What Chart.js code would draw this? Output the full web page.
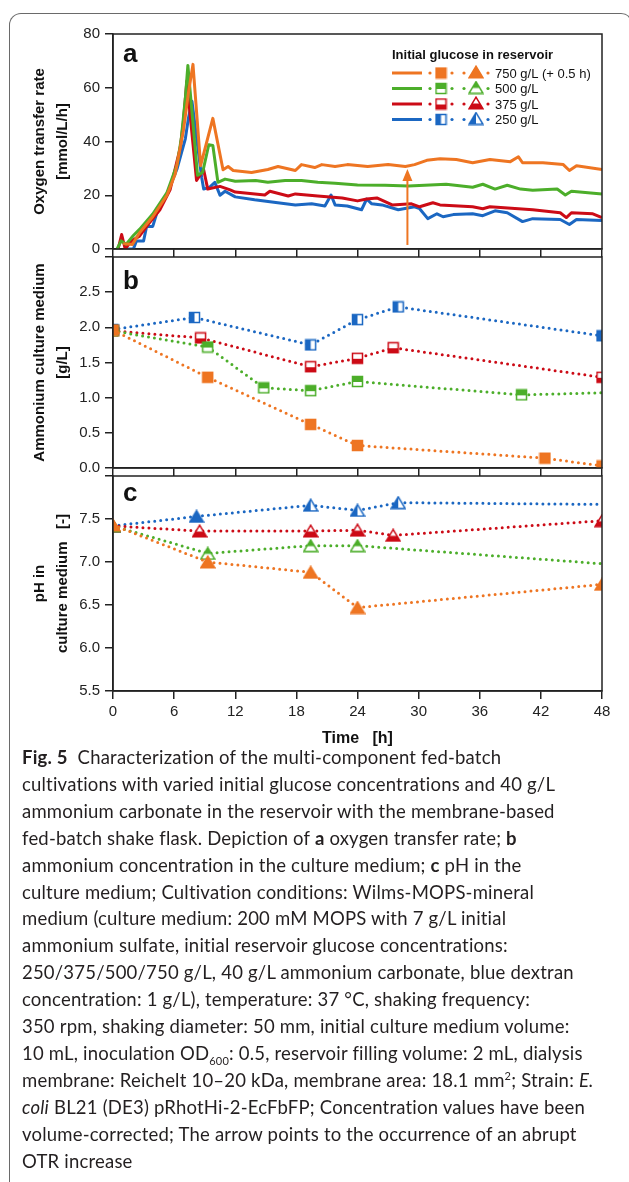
<!DOCTYPE html>
<html>
<head>
<meta charset="utf-8">
<script src="https://cdn.jsdelivr.net/npm/chart.js@4.4.1/dist/chart.umd.min.js"></script>
<style>
  body { margin: 0; background: #fff; width: 629px; height: 1182px; position: relative; overflow: hidden; }
  .frame { position: absolute; left: 9px; top: 13px; width: 624px; height: 1200px; box-sizing: border-box;
           border: 1.5px solid #6a6a6a; border-bottom: none; border-radius: 12px 12px 0 0; }
  canvas { position: absolute; left: 0; }
  #caption { position: absolute; left: 22px; top: 744px; width: 600px; font-family: Lato, "Open Sans", sans-serif;
             font-size: 18.5px; letter-spacing: 0.2px; font-variant-ligatures: none; line-height: 26.9px;
             color: #231f20; white-space: nowrap; }
  #caption sub, #caption sup { font-size: 11px; line-height: 0; }
</style>
</head>
<body>
<div class="frame"></div>
<canvas id="otr" width="629" height="263" style="top:0"></canvas>
<canvas id="nh4" width="629" height="239" style="top:243px"></canvas>
<canvas id="ph" width="629" height="300" style="top:462px"></canvas>
<div id="caption">
<b>Fig. 5</b>&nbsp; Characterization of the multi-component fed-batch<br>
cultivations with varied initial glucose concentrations and 40 g/L<br>
ammonium carbonate in the reservoir with the membrane-based<br>
fed-batch shake flask. Depiction of <b>a</b> oxygen transfer rate; <b>b</b><br>
ammonium concentration in the culture medium; <b>c</b> pH in the<br>
culture medium; Cultivation conditions: Wilms-MOPS-mineral<br>
medium (culture medium: 200 mM MOPS with 7 g/L initial<br>
ammonium sulfate, initial reservoir glucose concentrations:<br>
250/375/500/750 g/L, 40 g/L ammonium carbonate, blue dextran<br>
concentration: 1 g/L), temperature: 37 °C, shaking frequency:<br>
350 rpm, shaking diameter: 50 mm, initial culture medium volume:<br>
10 mL, inoculation OD<sub>600</sub>: 0.5, reservoir filling volume: 2 mL, dialysis<br>
membrane: Reichelt 10–20 kDa, membrane area: 18.1 mm<sup>2</sup>; Strain: <i>E.</i><br>
<i>coli</i> BL21 (DE3) pRhotHi-2-EcFbFP; Concentration values have been<br>
volume-corrected; The arrow points to the occurrence of an abrupt<br>
OTR increase
</div>
<script>
// series order: 750, 500, 375, 250 g/L initial glucose
const glucose = ['750 g/L (+ 0.5 h)', '500 g/L', '375 g/L', '250 g/L'];

// oxygen transfer rate [mmol/L/h]
const otrT750 = [1.0, 1.9, 2.6, 3.9, 5.3, 6.1, 6.9, 7.4, 7.85, 8.6, 9.8, 10.8, 11.3, 11.8, 13.6, 15.2, 16.2, 17.9, 18.5, 19.8, 20.5, 21.8, 23, 25, 27, 28.7, 29.6, 30.8, 32.1, 33.7, 35.3, 37, 39, 39.8, 40.2, 42.2, 44.2, 44.8, 45.5, 48];
const otr750 = [2, 1.7, 6, 12, 20, 27.8, 43.8, 58, 68.7, 31, 48.6, 29.5, 30.7, 29.2, 28.5, 29.6, 30.7, 29.2, 31.4, 30.3, 31.4, 30.7, 31.4, 30.7, 31.4, 30.7, 31.4, 33, 33.6, 33.3, 32.1, 33.3, 32.5, 34.3, 32.1, 32.1, 31.4, 29.2, 31, 29.6];
const otrT500 = [0.4, 0.8, 1.3, 2, 2.6, 3.9, 5.3, 6.3, 6.7, 7.1, 7.35, 8.3, 8.8, 9.4, 9.8, 10.3, 11, 12, 14, 15.2, 16.9, 18.5, 20.1, 21.8, 24, 26.7, 29, 30.6, 32.7, 35.3, 36.3, 37.5, 38.7, 40, 41.2, 43.6, 44.4, 45, 48];
const otr500 = [0, 3, 1.8, 5, 7.3, 13, 21, 31.5, 41, 56, 68.3, 27.4, 28.5, 38.8, 38.5, 24.8, 26, 25.2, 25.5, 24.8, 25.5, 25.5, 24.8, 24.5, 23.8, 23.7, 23.4, 23.7, 24.1, 23, 24.1, 22.3, 23.7, 22.3, 21.9, 22.3, 20.1, 21.5, 20.5];
const otrT375 = [0.5, 0.85, 1.2, 1.8, 2.6, 3.3, 4.6, 5.6, 6.6, 6.9, 7.25, 8.2, 8.9, 9.3, 10.5, 11.5, 12, 14.9, 15.4, 17.2, 17.9, 20.1, 22.5, 24, 24.9, 25.9, 27.4, 29.3, 30.1, 31.4, 32.1, 35.3, 36.3, 37, 41.2, 43.9, 44.5, 45, 47.1, 48];
const otr375 = [0, 5.4, 0, 3, 4.8, 8.4, 14.6, 22, 37.6, 47, 62.5, 25.5, 29.5, 22.3, 23.3, 22, 21.2, 20.1, 21.5, 19.7, 20.5, 19.7, 19, 17.9, 18.6, 19, 16.4, 16.8, 15.7, 17.2, 16.4, 15.7, 15, 15.7, 14.6, 13.5, 11.7, 13.5, 13.1, 11.7];
const otrT250 = [1.1, 2.0, 2.3, 3.0, 3.3, 3.9, 4.4, 5.3, 6.3, 7.1, 7.4, 7.75, 8.7, 8.9, 9.5, 10, 10.5, 11, 12, 13.9, 15.6, 17.9, 19.5, 20.8, 21.4, 21.8, 23, 24.4, 24.9, 25.4, 26.4, 28, 29.6, 30.1, 30.9, 31.8, 32.4, 33.4, 35.3, 36.3, 37.5, 38.7, 40.2, 41.2, 43.9, 44.8, 45.5, 48];
const otr250 = [0, 0, 3, 3, 8.4, 8.4, 14.6, 20.5, 30, 41, 48.6, 55, 26.7, 22.3, 23, 24.8, 20, 21.5, 19.4, 18.3, 17.5, 16.4, 16.8, 16, 20.1, 16.4, 16, 14.6, 18.6, 16.8, 16.4, 14.6, 15.7, 15, 11.3, 13.1, 12, 12.8, 13.1, 12.4, 14.2, 13.5, 10.2, 11.3, 11, 9.1, 11, 10.6];

// ammonium in culture medium [g/L]
const nh4T750 = [0, 9.3, 19.4, 24, 42.4, 48];
const nh4750 = [1.96, 1.29, 0.62, 0.32, 0.14, 0.03];
const nh4T500 = [0, 9.3, 14.8, 19.4, 24, 40.1, 48];
const nh4500 = [1.95, 1.72, 1.14, 1.10, 1.23, 1.04, 1.07];
const nh4T375 = [0, 8.6, 19.4, 24, 27.5, 48];
const nh4375 = [1.95, 1.85, 1.44, 1.56, 1.71, 1.29];
const nh4T250 = [0, 8.0, 19.4, 24, 28, 48];
const nh4250 = [1.97, 2.14, 1.75, 2.11, 2.29, 1.88];

// pH in culture medium [-]
const phT750 = [0, 9.3, 19.4, 24, 48];
const ph750 = [7.43, 7.00, 6.88, 6.47, 6.74];
const phT500 = [0, 9.3, 19.4, 24, 48];
const ph500 = [7.42, 7.10, 7.19, 7.19, 6.98];
const phT375 = [0, 8.5, 19.4, 24, 27.5, 48];
const ph375 = [7.42, 7.36, 7.36, 7.37, 7.31, 7.48];
const phT250 = [0, 8.2, 19.4, 24, 28, 48];
const ph250 = [7.42, 7.53, 7.66, 7.60, 7.69, 7.67];

// feed start arrow in the 750 g/L OTR curve
const arrowTime = 28.9;
const arrowFrom = 1.5;
const arrowTo = 29.8;

const colors = ['#ee7522', '#4cae2a', '#cc0b16', '#1b67c2'];
const halves = ['full', 'top', 'bottom', 'left'];
const sans = 'Liberation Sans, Arial, sans-serif';

function marker(shape, half, color) {
  const c = document.createElement('canvas');
  const sq = shape === 'square';
  const w = sq ? 13 : 16, h = sq ? 13 : 14;
  c.width = w; c.height = h;
  const g = c.getContext('2d');
  g.beginPath();
  if (sq) g.rect(1.5, 1.5, 10, 10);
  else { g.moveTo(8, 1.2); g.lineTo(15, 12.8); g.lineTo(1, 12.8); g.closePath(); }
  g.fillStyle = '#fff';
  g.fill();
  g.save();
  g.clip();
  g.fillStyle = color;
  if (half === 'full') g.fillRect(0, 0, w, h);
  if (half === 'top') g.fillRect(0, 0, w, h / 2 + 0.5);
  if (half === 'bottom') g.fillRect(0, h / 2 + 0.5, w, h);
  if (half === 'left') g.fillRect(0, 0, w / 2, h);
  g.restore();
  g.strokeStyle = color;
  g.lineWidth = 1.5;
  g.stroke();
  return c;
}
const squares = colors.map((c, i) => marker('square', halves[i], c));
const triangles = colors.map((c, i) => marker('triangle', halves[i], c));
const solidTriangles = colors.map(c => marker('triangle', 'full', c));

const pts = (t, v) => t.map((x, i) => ({ x, y: v[i] }));

function solid(i, t, v) {
  return { label: glucose[i], data: pts(t, v), borderColor: colors[i], borderWidth: 3,
           pointRadius: 0, tension: 0, borderJoinStyle: 'round' };
}
// dotted sample line; opts.solidAt = index of a fully filled marker, opts.openEnd = no marker at the last sample
function dotted(i, t, v, shapes, opts = {}) {
  const n = t.length;
  return {
    label: glucose[i], data: pts(t, v), borderColor: colors[i], borderWidth: 3,
    borderDash: [0, 6], borderCapStyle: 'round', tension: 0, clip: 0,
    pointRadius: ctx => (opts.openEnd && ctx.dataIndex === n - 1) ? 0 : 7,
    pointStyle: ctx => (ctx.dataIndex === opts.solidAt ? solidTriangles[i] : shapes[i])
  };
}

function xAxis(labels) {
  return {
    type: 'linear', min: 0, max: 48,
    ticks: { display: labels, stepSize: 6, color: '#222', padding: 4, maxRotation: 0, font: { family: sans, size: 15 } },
    grid: { drawOnChartArea: false, tickLength: 8, color: '#222', lineWidth: 1.5 },
    border: { color: '#222', width: 1.5 },
    title: { display: labels, text: 'Time   [h]', color: '#111', padding: { top: 0, bottom: 14 },
             font: { family: sans, size: 16, weight: 'bold' } },
    afterFit: s => { s.height = labels ? 71 : 10; }
  };
}
function yAxis(min, max, step, title, digits) {
  return {
    min, max,
    ticks: { stepSize: step, color: '#222', padding: 5, font: { family: sans, size: 15 },
             callback: v => (v === max && digits ? '' : v.toFixed(digits)) },
    grid: { drawOnChartArea: false, tickLength: 8, color: '#222', lineWidth: 1.5 },
    border: { color: '#222', width: 1.5 },
    title: { display: true, text: title, color: '#111', padding: { top: 28, bottom: 0 },
             font: { family: sans, size: 15, weight: 'bold', lineHeight: '23px' } },
    afterFit: s => { s.width = 113; }
  };
}

// box around each panel plus its bold letter
const panelFrame = {
  id: 'panelFrame',
  afterDraw(chart, args, opts) {
    const { ctx, chartArea: a } = chart;
    ctx.save();
    ctx.strokeStyle = '#222';
    ctx.lineWidth = 1.5;
    ctx.strokeRect(a.left, a.top, a.right - a.left, a.bottom - a.top);
    ctx.fillStyle = '#111';
    ctx.font = 'bold 26px ' + sans;
    ctx.textBaseline = 'alphabetic';
    ctx.fillText(opts.letter, a.left + 10, a.top + opts.dy);
    ctx.restore();
  }
};

// composite legend (line + ammonium square + pH triangle) and the arrow of panel a
const otrExtras = {
  id: 'otrExtras',
  afterDraw(chart) {
    const { ctx, chartArea: a, scales: { x, y } } = chart;
    ctx.save();
    const lx = a.left + 279;
    ctx.fillStyle = '#111';
    ctx.font = 'bold 13px ' + sans;
    ctx.textBaseline = 'middle';
    ctx.fillText('Initial glucose in reservoir', lx, a.top + 21);
    glucose.forEach((name, i) => {
      const ry = a.top + 39 + i * 15.5;
      ctx.strokeStyle = colors[i];
      ctx.lineWidth = 3;
      ctx.beginPath();
      ctx.moveTo(lx, ry);
      ctx.lineTo(lx + 30, ry);
      ctx.stroke();
      ctx.fillStyle = colors[i];
      [38, 60, 72, 96].forEach(dx => { ctx.beginPath(); ctx.arc(lx + dx, ry, 1.6, 0, Math.PI * 2); ctx.fill(); });
      const s = squares[i], t = triangles[i];
      ctx.drawImage(s, lx + 49 - s.width / 2, ry - s.height / 2);
      ctx.drawImage(t, lx + 84 - t.width / 2, ry - t.height / 2 - 1);
      ctx.fillStyle = '#111';
      ctx.font = '13px ' + sans;
      ctx.fillText(name, lx + 103, ry + 1);
    });
    const ax = x.getPixelForValue(arrowTime);
    const y0 = y.getPixelForValue(arrowFrom), y1 = y.getPixelForValue(arrowTo);
    ctx.strokeStyle = colors[0];
    ctx.fillStyle = colors[0];
    ctx.lineWidth = 2;
    ctx.beginPath();
    ctx.moveTo(ax, y0);
    ctx.lineTo(ax, y1 + 10);
    ctx.stroke();
    ctx.beginPath();
    ctx.moveTo(ax, y1);
    ctx.lineTo(ax + 5, y1 + 12);
    ctx.lineTo(ax - 5, y1 + 12);
    ctx.closePath();
    ctx.fill();
    ctx.restore();
  }
};

function base(top, letter, dy) {
  return {
    responsive: false, animation: false, events: [],
    layout: { padding: { top, right: 27, left: 0, bottom: 0 } },
    plugins: { legend: { display: false }, tooltip: { enabled: false }, panelFrame: { letter, dy } }
  };
}

new Chart(document.getElementById('otr'), {
  type: 'line',
  data: { datasets: [
    solid(0, otrT750, otr750), solid(1, otrT500, otr500), solid(2, otrT375, otr375), solid(3, otrT250, otr250)
  ] },
  options: Object.assign(base(34, 'a', 28), {
    scales: { x: xAxis(false), y: yAxis(0, 80, 20, ['Oxygen transfer rate', '[mmol/L/h]'], 0) }
  }),
  plugins: [panelFrame, otrExtras]
});

new Chart(document.getElementById('nh4'), {
  type: 'line',
  data: { datasets: [
    dotted(0, nh4T750, nh4750, squares),
    dotted(1, nh4T500, nh4500, squares, { openEnd: true }),
    dotted(2, nh4T375, nh4375, squares),
    dotted(3, nh4T250, nh4250, squares)
  ] },
  options: Object.assign(base(10, 'b', 32), {
    scales: { x: xAxis(false), y: yAxis(0, 3, 0.5, ['Ammonium culture medium', '[g/L]'], 1) }
  }),
  plugins: [panelFrame]
});

new Chart(document.getElementById('ph'), {
  type: 'line',
  data: { datasets: [
    dotted(0, phT750, ph750, triangles),
    dotted(1, phT500, ph500, triangles, { openEnd: true }),
    dotted(2, phT375, ph375, triangles),
    dotted(3, phT250, ph250, triangles, { openEnd: true, solidAt: 1 })
  ] },
  options: Object.assign(base(10, 'c', 25), {
    scales: { x: xAxis(true), y: yAxis(5.5, 8, 0.5, ['pH in', 'culture medium   [-]'], 1) }
  }),
  plugins: [panelFrame]
});
</script>
</body>
</html>
